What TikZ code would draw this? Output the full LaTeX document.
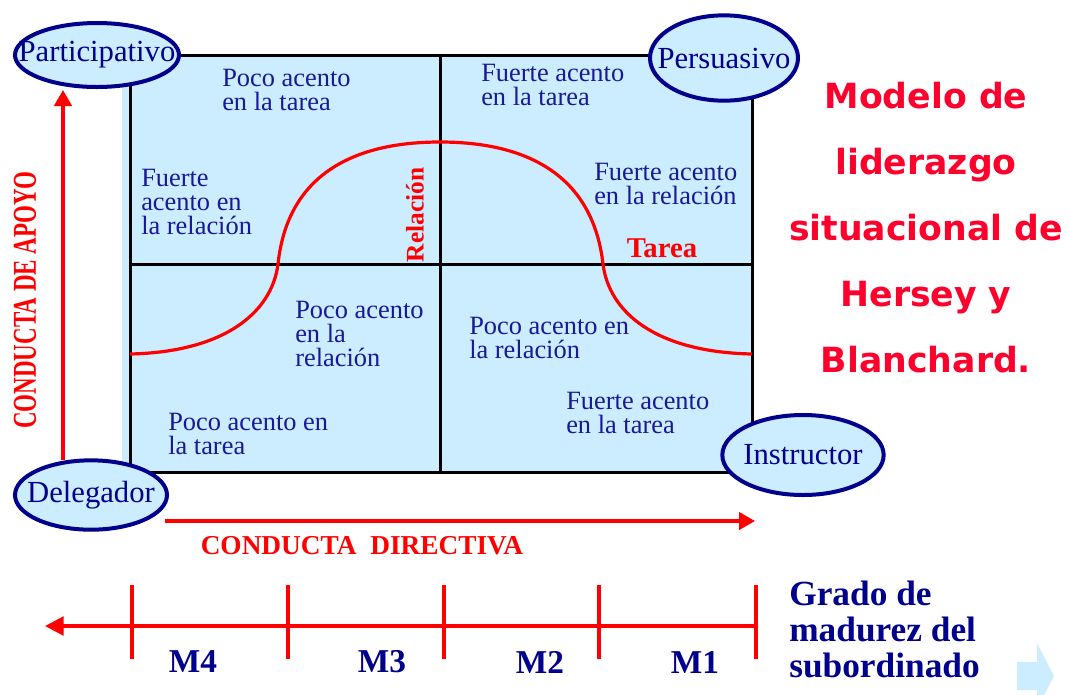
\documentclass[tikz,border=0pt]{standalone}
\usepackage{fontspec}
\setmainfont{Liberation Serif}
\newfontfamily\titlefont{DejaVu Sans}
\usetikzlibrary{shapes.geometric,arrows.meta}
\definecolor{lblue}{RGB}{204,236,255}
\definecolor{navy}{RGB}{0,0,140}
\definecolor{txtblue}{RGB}{25,25,150}
\definecolor{tred}{RGB}{255,0,45}
\begin{document}
\begin{tikzpicture}[x=0.75pt,y=-0.75pt,
  role/.style={ellipse,draw=navy,fill=lblue,line width=3pt,inner sep=0pt},
  roletext/.style={inner sep=0pt,text=navy,font=\fontsize{23}{24}\selectfont},
  qtext/.style={anchor=west,align=left,inner sep=0pt,text=txtblue,font=\fontsize{19.8}{18}\selectfont},
  gridline/.style={line width=2.25pt,black},
  redax/.style={red,line width=2.6pt},
  redhead/.style={-{Triangle[width=13pt,length=12pt]}},
  mlabel/.style={text=navy,font=\fontsize{25}{27}\selectfont\bfseries},
  tick/.style={red,line width=2.6pt}
]
\useasboundingbox (0,0) rectangle (1070,694);
% quadrant box
\fill[lblue] (122,55) rectangle (752,472);
\draw[gridline] (130,55) rectangle (752,472);
\draw[gridline] (440,55) -- (440,472);
\draw[gridline] (130,264) -- (752,264);
% curve
\draw[red,line width=2.4pt] (130,354) .. controls (225,352) and (272,312) .. (278,264)
  .. controls (288,170) and (360,142) .. (440,142)
  .. controls (520,142) and (592,170) .. (603,264)
  .. controls (609,312) and (655,352) .. (752,354);
% quadrant texts
\node[qtext] (q1) at (222,89.5) {Poco acento\\en la tarea};
\node[qtext] (q2) at (141,202) {Fuerte\\acento en\\la relación};
\node[qtext] (q3) at (481,84.5) {Fuerte acento\\en la tarea};
\node[qtext] (q4) at (594,184) {Fuerte acento\\en la relación};
\node[qtext] (q5) at (295,334) {Poco acento\\en la\\relación};
\node[qtext] (q6) at (168,434) {Poco acento en\\la tarea};
\node[qtext] (q7) at (469,337.5) {Poco acento en\\la relación};
\node[qtext] (q8) at (566,412.5) {Fuerte acento\\en la tarea};
\node[rotate=90,text=red,font=\fontsize{19}{20}\selectfont\bfseries,inner sep=0pt] (rel) at (415,215) {Relación};
\node[text=red,font=\fontsize{21.5}{22}\selectfont\bfseries,inner sep=0pt] (tar) at (662,248) {Tarea};
% ellipses
\node[role,minimum width=123pt,minimum height=48pt] (part) at (97,55) {};
\node[roletext] (partt) at (part) {Participativo};
\node[role,minimum width=111pt,minimum height=64pt] (pers) at (724,58) {};
\node[roletext] (perst) at (pers) {Persuasivo};
\node[role,minimum width=114pt,minimum height=52pt] (dele) at (91,495) {};
\node[roletext] (delet) at (dele) {Delegador};
\node[role,minimum width=121pt,minimum height=60pt] (inst) at (803,455) {};
\node[roletext] (instt) at (inst) {Instructor};
% vertical axis
\coordinate (ya) at (63,460);
\coordinate (yb) at (63,90);
\draw[redax,redhead] (ya) -- (yb);
\node[rotate=90,text=red,inner sep=0pt,font=\fontsize{25}{26}\selectfont\bfseries] (apoyo) at (25,300) {\scalebox{0.69}[1]{CONDUCTA DE APOYO}};
% horizontal axis
\coordinate (xa) at (165,521);
\coordinate (xb) at (755,521);
\draw[redax,redhead] (xa) -- (xb);
\node[text=red,inner sep=0pt,font=\fontsize{20.5}{22}\selectfont\bfseries] (dir) at (362,546) {CONDUCTA\ \ DIRECTIVA};
% maturity axis
\coordinate (ma) at (757,626);
\coordinate (mb) at (45,626);
\draw[redax,{Triangle[width=14pt,length=14pt]}-] (mb) -- (ma);
\foreach \x in {132,288,444,599,756} \draw[tick] (\x,585) -- (\x,659);
\node[mlabel] (m4) at (193,662) {M4};
\node[mlabel] (m3) at (382,662) {M3};
\node[mlabel] (m2) at (540,662) {M2};
\node[mlabel] (m1) at (695,662) {M1};
\node[anchor=west,align=left,inner sep=0pt,text=navy,font=\fontsize{26.5}{27}\selectfont\bfseries] (grado) at (789,629) {Grado de\\madurez del\\subordinado};
% title
\node[align=center,text=tred,inner sep=0pt,font=\titlefont\fontsize{26}{49.5}\selectfont\bfseries] (title) at (926,228) {Modelo de\\liderazgo\\situacional de\\Hersey y\\Blanchard.};
% small arrow icon
\begin{scope}
\clip (0,0) rectangle (1070,694);
\fill[lblue] (1017,662) -- (1037,662) -- (1037,643) -- (1054,676) -- (1037,709) -- (1037,690) -- (1017,690) -- cycle;
\end{scope}
\end{tikzpicture}
\end{document}
